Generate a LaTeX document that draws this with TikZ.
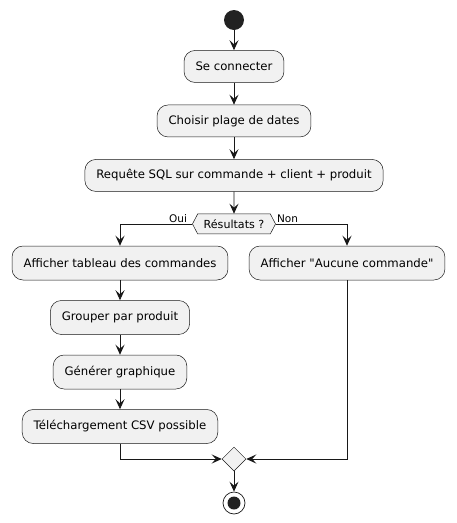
\documentclass[tikz,border=0pt]{standalone}
\usepackage{fontspec}
\setmainfont{DejaVu Sans}[Ligatures=TeXOff]
\usetikzlibrary{arrows.meta, positioning, shapes.geometric, shapes.symbols}

\definecolor{boxfill}{HTML}{F1F1F1}
\definecolor{boxline}{HTML}{181818}
\definecolor{dot}{HTML}{222222}

\begin{document}
\begin{tikzpicture}[x=1pt, y=-1pt, node distance={22pt},
		main/.style = {draw=boxline, fill=boxfill, line width=0.5pt, rounded corners=11pt, inner xsep=11.5pt, minimum height=32pt, font=\fontsize{11.7}{14}\selectfont},
		branch/.style = {main, minimum height=34pt},
		choice/.style = {draw=boxline, fill=boxfill, line width=0.5pt, signal, signal to=east and west, signal pointer angle=125, inner xsep=6pt, inner ysep=0pt, minimum height=20pt, font=\fontsize{11.1}{13}\selectfont},
		lbl/.style = {inner sep=0pt, font=\fontsize{10.5}{12}\selectfont},
		arr/.style = {draw=boxline, line width=0.9pt, -{Stealth[length=10pt, width=9pt, inset=4pt]}}]
		\useasboundingbox (0,0) rectangle (456,523);
		\node[circle, fill=dot, minimum size=20pt, inner sep=0pt] (start) at (234,20) {};
		\node[main] (conn) [below=20pt of start] {Se connecter};
		\node[main] (dates) [below=of conn] {Choisir plage de dates};
		\node[main] (sql) [below=of dates] {Requête SQL sur commande + client + produit};
		\node[choice] (res) [below=of sql] {Résultats ?};
		\node[branch] (tab) at (120,263) {Afficher tableau des commandes};
		\node[branch] (grp) [below=20pt of tab] {Grouper par produit};
		\node[branch] (gen) [below=20pt of grp] {Générer graphique};
		\node[branch] (csv) [below=20pt of gen] {Téléchargement CSV possible};
		\node[branch] (none) at (347,263) {Afficher "Aucune commande"};
		\node[diamond, draw=boxline, fill=boxfill, line width=0.5pt, minimum size=24pt, inner sep=0pt] (merge) at (234,459) {};
		\node[circle, draw=boxline, fill=white, line width=0.7pt, minimum size=22pt, inner sep=0pt] (stop) at (234,503) {};
		\fill[dot] (stop.center) circle (6.5);
		\node[lbl, anchor=south east] (oui) at ([xshift=-5pt, yshift=1pt]res.west) {Oui};
		\node[lbl, anchor=south west] (non) at ([xshift=1pt, yshift=1pt]res.east) {Non};
		\draw[arr] (start) -- (conn);
		\draw[arr] (conn) -- (dates);
		\draw[arr] (dates) -- (sql);
		\draw[arr] (sql) -- (res);
		\draw[arr] (res.west) -| (tab);
		\draw[arr] (res.east) -| (none);
		\draw[arr] (tab) -- (grp);
		\draw[arr] (grp) -- (gen);
		\draw[arr] (gen) -- (csv);
		\draw[arr] (csv) |- (merge.west);
		\draw[arr] (none) |- (merge.east);
		\draw[arr] (merge) -- (stop);
	\end{tikzpicture}
\end{document}
